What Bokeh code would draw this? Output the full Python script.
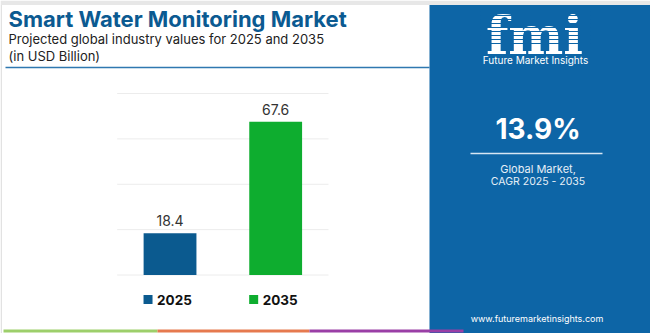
from bokeh.plotting import figure
from bokeh.models import Range1d
from bokeh.embed import file_html
from bokeh.resources import INLINE
from bokeh.core.properties import value

# ---- data ----
categories = ["2025", "2035"]
values = [18.4, 67.6]
bar_colors = ["#0b5a8f", "#0ead2f"]
grid_ticks = [0, 20, 40, 60, 80]
cagr_text = "13.9%"
title = "Smart Water Monitoring Market"
subtitle = "Projected global industry values for 2025 and 2035"
unit_text = "(in USD Billion)"

W, H = 650, 333
FONT = "Inter"

p = figure(width=W, height=H, x_range=Range1d(0, W), y_range=Range1d(H, 0),
           x_axis_type=None, y_axis_type=None, output_backend="svg",
           toolbar_location=None, min_border=0, min_border_left=0,
           min_border_right=0, min_border_top=0, min_border_bottom=0)
p.outline_line_color = None
p.grid.visible = False
p.background_fill_color = "white"
p.border_fill_color = "white"

# chart scales: category index axis and value axis mapped into the chart area
left_px, right_px = 116.7, 328.0
base_px, top_px = 274.5, 93.0
vmax = grid_ticks[-1]
ppu_x = (right_px - left_px) / len(categories)
x0 = -0.5 - left_px / ppu_x
p.extra_x_ranges = {"cat": Range1d(x0, x0 + W / ppu_x)}
ppu_y = (base_px - top_px) / vmax
y0 = -(H - base_px) / ppu_y
p.extra_y_ranges = {"val": Range1d(y0, y0 + H / ppu_y)}

idx = list(range(len(categories)))

# frame decorations
p.quad(left=0, right=W, top=0, bottom=4.5, fill_color="#e7e7e7", line_color=None)
p.quad(left=0, right=1.5, top=4.5, bottom=H, fill_color="#e2e2e2", line_color=None)

# right panel
p.quad(left=429, right=W, top=4.5, bottom=H, fill_color="#0d65a6", line_color=None)

# gridlines
p.segment(x0=[-0.5] * len(grid_ticks), x1=[len(categories) - 0.5] * len(grid_ticks),
          y0=grid_ticks, y1=grid_ticks, line_color="#ececec", line_width=1,
          x_range_name="cat", y_range_name="val")

# bars
p.vbar(x=idx, top=values, bottom=0, width=0.5, fill_color=bar_colors,
       line_color=None, x_range_name="cat", y_range_name="val")

# value labels
p.text(x=idx, y=values, text=[f"{v}" for v in values], x_range_name="cat",
       y_range_name="val", y_offset=-7, text_align="center",
       text_baseline="bottom", text_font=value(FONT), text_font_size="14px",
       text_color="#333333")

# legend
sq_off = -22 / ppu_x
p.rect(x=[i + sq_off for i in idx], y=[299] * len(idx), width=9, height=9,
       width_units="screen", height_units="screen",
       fill_color=bar_colors, line_color=None, x_range_name="cat")
p.text(x=idx, y=[299] * len(idx), text=categories, x_offset=-13,
       x_range_name="cat", text_align="left", text_baseline="middle",
       text_font=value(FONT), text_font_style="bold", text_font_size="13.5px",
       text_color="#111111")

# titles
p.text(x=[8], y=[18], text=[title], text_font=value(FONT), text_font_style="bold",
       text_font_size="22px", text_color="#0b5a91", text_baseline="middle")
p.text(x=[8], y=[38.5], text=[subtitle], text_font=value(FONT),
       text_font_size="13px", text_color="#222222", text_baseline="middle")
p.text(x=[8], y=[55.5], text=[unit_text], text_font=value(FONT),
       text_font_size="13px", text_color="#222222", text_baseline="middle")
p.segment(x0=[5], x1=[429], y0=[67], y1=[67], line_color="#2f78b0", line_width=1.5)

# bottom stripe
p.segment(x0=[3, 157, 309], x1=[157, 309, 463], y0=[330.5] * 3, y1=[330.5] * 3,
          line_color=["#9dcf6b", "#e67a4f", "#9a3fa6"], line_width=3)

# logo
p.text(x=[534], y=[35], text=["fmi"], text_font=value("DejaVu Serif"),
       text_font_style="bold", text_font_size="52px", text_color="white",
       text_align="center", text_baseline="alphabetic")
p.segment(x0=[480] * 9, x1=[590] * 9, y0=[11 + 4 * i for i in range(9)],
          y1=[11 + 4 * i for i in range(9)], line_color="#0d65a6", line_width=1)
p.text(x=[535], y=[59.5], text=["Future Market Insights"], text_font=value(FONT),
       text_font_size="10px", text_color="white", text_align="center",
       text_baseline="middle")

# CAGR
p.text(x=[537.5], y=[128], text=[cagr_text], text_font=value(FONT),
       text_font_style="bold", text_font_size="28px", text_color="white",
       text_align="center", text_baseline="middle")
p.segment(x0=[470], x1=[602], y0=[153], y1=[153], line_color="#d6e6f3", line_width=1.5)
p.text(x=[537.5], y=[168], text=["Global Market,"],
       text_font=value(FONT), text_font_size="11px", text_color="#e6eff7",
       text_align="center", text_baseline="middle")
p.text(x=[537.5], y=[181], text=["CAGR 2025 - 2035"],
       text_font=value(FONT), text_font_size="10.5px", text_color="#e6eff7",
       text_align="center", text_baseline="middle")
p.text(x=[536.5], y=[318], text=["www.futuremarketinsights.com"], text_font=value(FONT),
       text_font_size="9px", text_color="white", text_align="center",
       text_baseline="middle")

open("out.html", "w").write(file_html(p, INLINE))
